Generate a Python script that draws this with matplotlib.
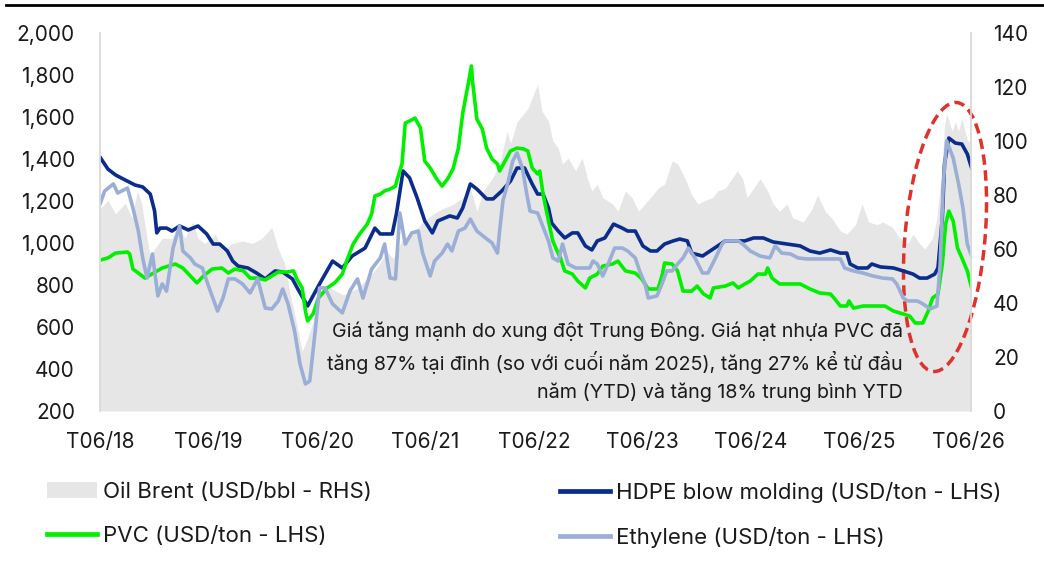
import matplotlib
matplotlib.use("Agg")
import matplotlib.pyplot as plt
from matplotlib.patches import Ellipse, Patch
from matplotlib.lines import Line2D

plt.rcParams['font.family'] = ['Inter', 'DejaVu Sans']

# ---------------- data (time in decimal years) ----------------
hdpe_t = [2018.42, 2018.49, 2018.56, 2018.63, 2018.74, 2018.81, 2018.88, 2018.92, 2018.94, 2018.97,
          2019.03, 2019.08, 2019.15, 2019.23, 2019.32, 2019.40, 2019.46, 2019.52, 2019.59, 2019.64,
          2019.69, 2019.78, 2019.86, 2019.94, 2020.03, 2020.10, 2020.19, 2020.24, 2020.33, 2020.38,
          2020.44, 2020.56, 2020.65, 2020.74, 2020.86, 2020.95, 2021.00, 2021.11, 2021.15, 2021.21,
          2021.27, 2021.34, 2021.41, 2021.48, 2021.53, 2021.64, 2021.71, 2021.76, 2021.83, 2021.89,
          2021.98, 2022.04, 2022.12, 2022.20, 2022.26, 2022.33, 2022.40, 2022.45, 2022.50, 2022.55,
          2022.58, 2022.64, 2022.70, 2022.77, 2022.82, 2022.89, 2022.95, 2023.00, 2023.07, 2023.15,
          2023.23, 2023.28, 2023.35, 2023.42, 2023.49, 2023.55, 2023.62, 2023.70, 2023.76, 2023.83,
          2023.87, 2023.97, 2024.04, 2024.11, 2024.18, 2024.30, 2024.36, 2024.44, 2024.53, 2024.62,
          2024.75, 2024.87, 2024.96, 2025.05, 2025.15, 2025.24, 2025.30, 2025.33, 2025.40, 2025.49,
          2025.53, 2025.61, 2025.73, 2025.82, 2025.91, 2025.97, 2026.04, 2026.11, 2026.14, 2026.18,
          2026.20, 2026.24, 2026.30, 2026.36, 2026.41, 2026.45]
hdpe_v = [1406, 1352, 1324, 1305, 1276, 1267, 1233, 1152, 1048, 1071,
          1071, 1057, 1081, 1062, 1081, 1043, 995, 995, 962, 914,
          890, 881, 857, 829, 867, 862, 829, 781, 700, 748,
          805, 914, 881, 938, 976, 1071, 1043, 1043, 1143, 1343,
          1310, 1214, 1105, 1048, 1105, 1129, 1119, 1167, 1281, 1257,
          1210, 1210, 1248, 1295, 1357, 1357, 1281, 1233, 1233, 1167,
          1095, 1057, 1024, 1048, 1048, 986, 967, 1010, 1024, 1090,
          1071, 1057, 1057, 986, 962, 962, 995, 1010, 1019, 1010,
          952, 938, 962, 986, 1010, 1010, 1010, 1024, 1024, 1005,
          995, 986, 962, 952, 967, 952, 952, 900, 881, 881,
          900, 886, 881, 867, 852, 833, 833, 852, 881, 1119,
          1376, 1500, 1476, 1471, 1424, 1357]

pvc_t = [2018.42, 2018.49, 2018.56, 2018.67, 2018.69, 2018.72, 2018.77, 2018.83, 2018.91, 2018.99,
         2019.11, 2019.18, 2019.25, 2019.31, 2019.37, 2019.45, 2019.54, 2019.60, 2019.66, 2019.74,
         2019.80, 2019.87, 2019.94, 2020.00, 2020.06, 2020.14, 2020.20, 2020.23, 2020.28, 2020.31,
         2020.33, 2020.38, 2020.43, 2020.51, 2020.58, 2020.65, 2020.69, 2020.75, 2020.81, 2020.88,
         2020.92, 2020.95, 2021.00, 2021.04, 2021.09, 2021.14, 2021.16, 2021.20, 2021.23, 2021.27,
         2021.32, 2021.37, 2021.41, 2021.46, 2021.52, 2021.57, 2021.62, 2021.67, 2021.72, 2021.76,
         2021.81, 2021.84, 2021.85, 2021.89, 2021.94, 2021.98, 2022.03, 2022.08, 2022.10, 2022.15,
         2022.20, 2022.26, 2022.32, 2022.36, 2022.40, 2022.45, 2022.47, 2022.50, 2022.55, 2022.59,
         2022.63, 2022.66, 2022.70, 2022.77, 2022.82, 2022.89, 2022.93, 2023.00, 2023.05, 2023.14,
         2023.19, 2023.26, 2023.35, 2023.41, 2023.47, 2023.56, 2023.60, 2023.62, 2023.69, 2023.74,
         2023.79, 2023.87, 2023.92, 2023.98, 2024.04, 2024.07, 2024.18, 2024.25, 2024.30, 2024.36,
         2024.41, 2024.48, 2024.55, 2024.57, 2024.61, 2024.68, 2024.78, 2024.87, 2024.96, 2025.05,
         2025.15, 2025.19, 2025.24, 2025.30, 2025.32, 2025.36, 2025.45, 2025.54, 2025.65, 2025.73,
         2025.82, 2025.88, 2025.93, 2026.00, 2026.05, 2026.09, 2026.14, 2026.18, 2026.21, 2026.24,
         2026.28, 2026.32, 2026.36, 2026.41, 2026.45]
pvc_v = [919, 929, 952, 957, 948, 876, 857, 833, 857, 881,
         900, 881, 843, 810, 843, 876, 881, 857, 876, 867,
         833, 833, 824, 843, 862, 862, 867, 829, 786, 676,
         629, 662, 738, 786, 810, 852, 914, 995, 1043, 1090,
         1138, 1224, 1233, 1248, 1257, 1271, 1310, 1376, 1571, 1581,
         1595, 1548, 1390, 1357, 1305, 1271, 1305, 1352, 1452, 1619,
         1757, 1843, 1771, 1590, 1543, 1452, 1400, 1376, 1343, 1390,
         1438, 1452, 1448, 1438, 1357, 1329, 1343, 1233, 1105, 1010,
         962, 929, 867, 852, 819, 786, 833, 852, 890, 900,
         914, 867, 857, 829, 781, 781, 852, 905, 900, 867,
         771, 771, 795, 757, 738, 786, 795, 810, 786, 805,
         819, 852, 852, 881, 833, 805, 805, 805, 781, 762,
         757, 733, 700, 700, 724, 690, 700, 700, 700, 676,
         662, 652, 619, 619, 676, 738, 757, 900, 1090, 1152,
         1105, 976, 929, 867, 786]

eth_t = [2018.42, 2018.46, 2018.54, 2018.58, 2018.67, 2018.72, 2018.77, 2018.81, 2018.85, 2018.90,
         2018.95, 2018.99, 2019.03, 2019.09, 2019.15, 2019.18, 2019.25, 2019.29, 2019.36, 2019.41,
         2019.50, 2019.55, 2019.60, 2019.66, 2019.73, 2019.80, 2019.87, 2019.94, 2020.00, 2020.06,
         2020.10, 2020.15, 2020.21, 2020.26, 2020.31, 2020.35, 2020.40, 2020.44, 2020.49, 2020.56,
         2020.65, 2020.72, 2020.79, 2020.84, 2020.92, 2021.00, 2021.04, 2021.09, 2021.14, 2021.18,
         2021.23, 2021.29, 2021.35, 2021.39, 2021.46, 2021.50, 2021.57, 2021.62, 2021.66, 2021.72,
         2021.78, 2021.83, 2021.89, 2021.97, 2022.03, 2022.08, 2022.10, 2022.13, 2022.18, 2022.22,
         2022.26, 2022.31, 2022.35, 2022.38, 2022.45, 2022.49, 2022.55, 2022.59, 2022.64, 2022.68,
         2022.73, 2022.80, 2022.87, 2022.93, 2022.96, 2023.00, 2023.05, 2023.10, 2023.16, 2023.23,
         2023.28, 2023.35, 2023.39, 2023.44, 2023.47, 2023.55, 2023.60, 2023.64, 2023.69, 2023.74,
         2023.79, 2023.84, 2023.90, 2023.97, 2024.02, 2024.09, 2024.15, 2024.18, 2024.30, 2024.34,
         2024.41, 2024.50, 2024.59, 2024.64, 2024.70, 2024.78, 2024.85, 2024.93, 2025.05, 2025.17,
         2025.24, 2025.28, 2025.36, 2025.45, 2025.54, 2025.63, 2025.72, 2025.76, 2025.82, 2025.86,
         2025.95, 2026.00, 2026.07, 2026.13, 2026.16, 2026.19, 2026.22, 2026.28, 2026.33, 2026.37,
         2026.41, 2026.45]
eth_v = [1190, 1248, 1281, 1238, 1262, 1167, 1057, 929, 833, 948,
         748, 805, 771, 976, 1081, 962, 929, 900, 881, 805,
         676, 738, 829, 829, 805, 762, 829, 690, 686, 724,
         781, 710, 581, 424, 329, 343, 581, 786, 786, 710,
         667, 771, 829, 738, 876, 929, 995, 833, 829, 1143,
         995, 1048, 1057, 952, 843, 914, 952, 995, 962, 1057,
         1071, 1114, 1057, 1024, 1000, 952, 1057, 1200, 1295, 1390,
         1429, 1357, 1233, 1152, 1143, 1090, 1010, 929, 914, 995,
         900, 881, 881, 881, 914, 900, 843, 900, 976, 976,
         962, 929, 867, 805, 738, 748, 810, 867, 867, 900,
         929, 976, 929, 857, 857, 929, 995, 1010, 1010, 995,
         962, 938, 929, 986, 952, 948, 929, 924, 924, 924,
         924, 881, 867, 857, 843, 833, 829, 805, 738, 724,
         724, 710, 686, 700, 900, 1295, 1486, 1405, 1281, 1167,
         995, 938]

brent_t = [2018.42, 2018.49, 2018.56, 2018.65, 2018.71, 2018.76, 2018.80, 2018.85, 2018.88, 2018.92,
           2018.99, 2019.08, 2019.14, 2019.20, 2019.27, 2019.32, 2019.38, 2019.48, 2019.55, 2019.63,
           2019.73, 2019.82, 2019.91, 2020.00, 2020.06, 2020.12, 2020.17, 2020.21, 2020.28, 2020.33,
           2020.38, 2020.42, 2020.54, 2020.66, 2020.79, 2020.88, 2020.97, 2021.06, 2021.12, 2021.21,
           2021.30, 2021.39, 2021.49, 2021.58, 2021.67, 2021.76, 2021.83, 2021.89, 2021.95, 2022.03,
           2022.10, 2022.17, 2022.20, 2022.26, 2022.32, 2022.36, 2022.40, 2022.45, 2022.49, 2022.55,
           2022.59, 2022.64, 2022.68, 2022.73, 2022.80, 2022.86, 2022.91, 2022.95, 2023.00, 2023.05,
           2023.14, 2023.19, 2023.26, 2023.32, 2023.38, 2023.44, 2023.51, 2023.56, 2023.62, 2023.69,
           2023.74, 2023.81, 2023.87, 2023.93, 2023.99, 2024.06, 2024.11, 2024.18, 2024.24, 2024.29,
           2024.34, 2024.38, 2024.44, 2024.50, 2024.57, 2024.62, 2024.68, 2024.75, 2024.80, 2024.90,
           2024.98, 2025.03, 2025.10, 2025.16, 2025.24, 2025.30, 2025.38, 2025.44, 2025.50, 2025.58,
           2025.63, 2025.72, 2025.79, 2025.86, 2025.91, 2025.97, 2026.02, 2026.09, 2026.13, 2026.18,
           2026.20, 2026.22, 2026.27, 2026.30, 2026.33, 2026.36, 2026.41, 2026.45]
brent_v = [75, 78, 73, 77, 71.5, 81.5, 77, 64, 57, 60,
           64, 64, 68, 64, 70, 64, 62, 65.5, 59, 62,
           63, 62, 64, 68, 60, 54.5, 43, 36, 22, 27,
           33, 42, 45.5, 43, 45.5, 49, 53, 59, 56.5, 64,
           65.5, 70, 73, 75, 76.5, 79, 82.5, 74, 81.5, 86,
           91.5, 103.7, 99, 107, 110, 112, 116, 121, 111, 107.4,
           100, 97.4, 91.5, 93.7, 89, 93.7, 86, 81.5, 84, 79,
           76.7, 74, 81.5, 79, 74, 76.7, 80, 82.5, 84, 92.6,
           91.5, 86, 80, 76.7, 78, 79, 81.5, 82.5, 86, 89,
           86, 79, 82.5, 86, 81.5, 76.7, 74, 76.7, 71.5, 70,
           75, 80, 74, 71.5, 66.7, 65.5, 69, 76.7, 70, 69,
           70, 68, 64, 62, 65.5, 62, 60, 64, 71.5, 91.5,
           106, 110, 103.7, 107, 103.7, 108.5, 100, 100]

year_ticks = [2018, 2019, 2020, 2021, 2022, 2023, 2024, 2025, 2026]
tick_labels = ["T06/18", "T06/19", "T06/20", "T06/21", "T06/22", "T06/23", "T06/24", "T06/25", "T06/26"]
left_ticks = list(range(200, 2001, 200))
right_ticks = list(range(0, 141, 20))

note = ("Giá tăng mạnh do xung đột Trung Đông. Giá hạt nhựa PVC đã\n"
        "tăng 87% tại đỉnh (so với cuối năm 2025), tăng 27% kể từ đầu\n"
        "năm (YTD) và tăng 18% trung bình YTD")

# ---------------- styling ----------------
C_BRENT = '#E6E6E6'
C_HDPE = '#0A2D8C'
C_PVC = '#00F000'
C_ETH = '#9AAED6'
TXT = '#1A1A1A'
FS = 15

W, H = 1044, 566
fig = plt.figure(figsize=(W / 100, H / 100), dpi=100)
ax = fig.add_axes([100 / W, 1 - 411 / H, 871 / W, 378 / H])
ax2 = ax.twinx()

ax2.fill_between(brent_t, brent_v, 0, color=C_BRENT, lw=0)
ax.set_zorder(ax2.get_zorder() + 1)
ax.patch.set_visible(False)

lw = 2.6
ax.plot(hdpe_t, hdpe_v, color=C_HDPE, lw=lw, solid_joinstyle='round')
ax.plot(pvc_t, pvc_v, color=C_PVC, lw=lw, solid_joinstyle='round')
ax.plot(eth_t, eth_v, color=C_ETH, lw=lw, solid_joinstyle='round')

x0 = 2018 + 5 / 12
ax.set_xlim(x0, x0 + 871 / 108.5)
ax.set_ylim(200, 2000)
ax2.set_ylim(0, 140)

ax.set_xticks([y + 5 / 12 for y in year_ticks])
ax.set_xticklabels(tick_labels)
ax.set_yticks(left_ticks)
ax.set_yticklabels([f"{v:,}" for v in left_ticks])
ax2.set_yticks(right_ticks)
ax2.set_yticklabels([str(v) for v in right_ticks])

for a in (ax, ax2):
    for s in ('top', 'bottom'):
        a.spines[s].set_visible(False)
    a.spines['left'].set_color('#DCDCDC')
    a.spines['right'].set_color('#DCDCDC')
    a.spines['left'].set_linewidth(1.2)
    a.spines['right'].set_linewidth(1.2)
ax.tick_params(axis='y', length=0, pad=18, labelsize=FS, labelcolor=TXT)
ax.tick_params(axis='x', length=0, pad=15, labelsize=FS, labelcolor=TXT)
ax2.tick_params(axis='y', length=0, pad=16, labelsize=FS, labelcolor=TXT)

# annotation
fig.text(903 / W, 1 - 362 / H, note, ha='right', va='center', multialignment='right',
         fontsize=14.2, color=TXT, linespacing=1.53)

# red dashed ellipse (pixel-based placement)
ell = Ellipse((945 / 100, (H - 237) / 100), 0.80, 2.70, angle=-5,
              transform=fig.dpi_scale_trans, fill=False, ec='#E0312B', lw=2.5,
              ls=(0, (3, 1.6)))
fig.add_artist(ell)

# top rule
fig.add_artist(Line2D([6 / W, 1.0], [1 - 5 / H, 1 - 5 / H], color='black', lw=2,
                      transform=fig.transFigure))

# legends
h_brent = Patch(facecolor=C_BRENT, edgecolor='none')
h_hdpe = Line2D([], [], color=C_HDPE, lw=3.4)
h_pvc = Line2D([], [], color=C_PVC, lw=3.4)
h_eth = Line2D([], [], color=C_ETH, lw=3.4)
common = dict(frameon=False, fontsize=16, handlelength=2.25, handletextpad=0.25,
              labelspacing=1.06, borderaxespad=0, borderpad=0, labelcolor=TXT)
leg1 = fig.legend([h_brent, h_pvc], ["Oil Brent (USD/bbl - RHS)", "PVC (USD/ton - LHS)"],
                  loc='upper left', bbox_to_anchor=(47 / W, 1 - 482 / H), **common)
leg2 = fig.legend([h_hdpe, h_eth], ["HDPE blow molding (USD/ton - LHS)", "Ethylene (USD/ton - LHS)"],
                  loc='upper left', bbox_to_anchor=(560 / W, 1 - 482 / H), **common)

fig.savefig("out.png", dpi=100)
